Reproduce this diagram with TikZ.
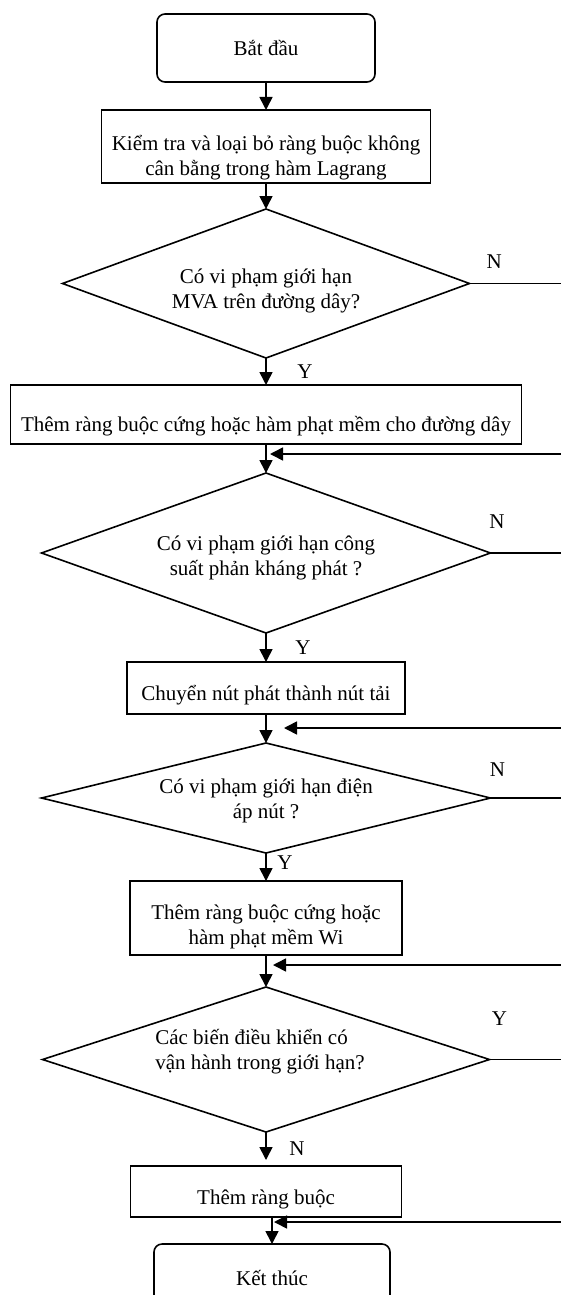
\documentclass[tikz,border=0pt]{standalone}
\usepackage{fontspec}
\setmainfont{Liberation Serif}
\usepackage{tikz}
\usetikzlibrary{arrows.meta,positioning,shapes.geometric}
% text set lower (or higher) inside its box
\newcommand{\droptext}[3][c]{\raisebox{-#2}[\height][\depth]{\begin{tabular}{@{}#1@{}}#3\end{tabular}}}
\tikzset{
    %Define standard arrow tip
    >={Triangle[length=6.5pt,width=6.5pt]},
    %Define style for lines
    line/.style={line width=0.8pt},
    flow/.style={line, ->},
    %Define style for start and end
    terminal/.style={rectangle, rounded corners=4pt, draw=black, line width=0.8pt, outer sep=0pt, minimum width=109pt, minimum height=34pt},
    %Define style for steps
    process/.style={rectangle, draw=black, line width=0.8pt, outer sep=0pt, inner sep=1pt},
    %Define style for questions
    decision/.style={diamond, draw=black, line width=0.8pt, outer sep=0pt, inner sep=0pt},
}

\begin{document}
\begin{tikzpicture}[font=\fontsize{10.5}{12.5}\selectfont, node distance=14pt]
    \useasboundingbox (0,0) rectangle (280.5pt,-647.5pt);
    \coordinate (edge) at (280.5pt,0);

    	\node[terminal](start) at (133pt,-24pt){Bắt đầu};
    	\node[process, below=14pt of start, minimum width=164.5pt, minimum height=36.5pt](check){\droptext{5.5pt}{Kiểm tra và loại bỏ ràng buộc không\\cân bằng trong hàm Lagrang}};
    	\node[decision, below=13pt of check, minimum width=203.5pt, minimum height=74.5pt, shape aspect=2.73](mva){\droptext{3.8pt}{Có vi phạm giới hạn\\MVA trên đường dây?}};
    	\node[process, below=13.5pt of mva, minimum width=255.5pt, minimum height=29.5pt](addline){\droptext{6pt}{Thêm ràng buộc cứng hoặc hàm phạt mềm cho đường dây}};
    	\node[decision, below=14.5pt of addline, minimum width=224.5pt, minimum height=80pt, shape aspect=2.8](reactive){\droptext{2.5pt}{Có vi phạm giới hạn công\\suất phản kháng phát ?}};
    	\node[process, below=14.5pt of reactive, minimum width=139pt, minimum height=26pt](convert){\droptext{3.5pt}{Chuyển nút phát thành nút tải}};
    	\node[decision, below=14.5pt of convert, minimum width=224.5pt, minimum height=55pt, shape aspect=4.08](voltage){\droptext{1.5pt}{Có vi phạm giới hạn điện\\áp nút ?}};
    	\node[process, below=14pt of voltage, minimum width=136pt, minimum height=37pt](addwi){\droptext{4.5pt}{Thêm ràng buộc cứng hoặc\\hàm phạt mềm Wi}};
    	\node[decision, below=16pt of addwi, minimum width=223.5pt, minimum height=72.5pt, shape aspect=3.08](control){\droptext[l@{\hspace{6pt}}]{-3.8pt}{Các biến điều khiển có\\vận hành trong giới hạn?}};
    	\node[process, below=17pt of control, minimum width=135.5pt, minimum height=25.5pt](addcons){\droptext{4pt}{Thêm ràng buộc}};
    	\node[terminal, below=13.5pt of addcons, xshift=3pt, minimum width=118pt](finish){Kết thúc};

        \path(start) edge [flow] (check);
        \path(check) edge [flow] (mva);
        \draw[flow] (mva) -- node[right=12pt]{Y} (addline);
        \path(addline) edge [flow] (reactive);
        \draw[flow] (reactive) -- node[right=11pt]{Y} (convert);
        \path(convert) edge [flow] (voltage);
        \draw[flow] (voltage) -- node[pos=0.35, right=2pt]{Y} (addwi);
        \path(addwi) edge [flow] (control);
        \draw[flow, shorten >=3pt] (control) -- node[right=8pt]{N} (addcons);
        \draw[flow] (addcons.south -| finish.north) -- (finish.north);

        % exits to the right
        \draw[line] (mva.east) -- node[pos=0.27, above=4pt]{N} (mva.east -| edge);
        \draw[line] (reactive.east) -- node[pos=0.09, above=8.5pt]{N} (reactive.east -| edge);
        \draw[line] (voltage.east) -- node[pos=0.1, above=7pt]{N} (voltage.east -| edge);
        \draw[line] (control.east) -- node[pos=0.14, above=13.5pt]{Y} (control.east -| edge);

        % returns from the right
        \coordinate[below=5pt of addline] (join1);
        \coordinate[below=7pt of convert] (join2);
        \coordinate[below=5pt of addwi] (join3);
        \coordinate[below=2.5pt of addcons] (join4);
        \draw[flow, shorten >=2pt] (join1 -| edge) -- (join1);
        \draw[flow, shorten >=9pt] (join2 -| edge) -- (join2);
        \draw[flow, shorten >=3.5pt] (join3 -| edge) -- (join3);
        \draw[flow, shorten >=1pt] (join4 -| edge) -- (join4 -| finish.north);
    \end{tikzpicture}
\end{document}
